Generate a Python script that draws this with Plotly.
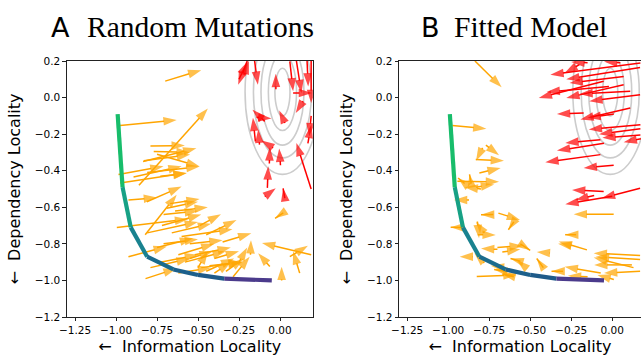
import plotly.graph_objects as go

# ---------------- data ----------------
x_ticks = [-1.25, -1.0, -0.75, -0.5, -0.25, 0.0]
y_ticks = [-1.2, -1.0, -0.8, -0.6, -0.4, -0.2, 0.0, 0.2]

frontier_x = [-0.99, -0.96, -0.91, -0.81, -0.65, -0.50, -0.34, -0.05]
frontier_y = [-0.09, -0.49, -0.71, -0.87, -0.94, -0.97, -0.99, -1.00]
frontier_colors = ["#18bd6b", "#17a185", "#19828f", "#1b6b8d", "#1d608b", "#1e5a89", "#4b3b8c"]

ring_halfwidth = [0.046, 0.086, 0.131, 0.177, 0.228]
ring_halfheight = [0.13, 0.21, 0.29, 0.36, 0.45]
ring_center_A = (0.015, 0.03)
ring_center_B = (-0.012, 0.03)

# arrows: (tail x, tail y, head x, head y)
A_orange = [
    (-0.70, 0.09, -0.48, 0.15), (-0.975, -0.153, -0.63, -0.122), (-0.86, -0.48, -0.44, -0.06),
    (-0.79, -0.265, -0.58, -0.262), (-0.835, -0.35, -0.51, -0.277), (-0.75, -0.31, -0.49, -0.377),
    (-0.81, -0.41, -0.49, -0.377), (-0.77, -0.295, -0.55, -0.30), (-0.73, -0.43, -0.57, -0.414),
    (-0.985, -0.421, -0.71, -0.376), (-0.893, -0.434, -0.60, -0.376), (-0.83, -0.345, -0.548, -0.312),
    (-0.975, -0.467, -0.568, -0.412), (-0.924, -0.56, -0.75, -0.547), (-0.812, -0.57, -0.60, -0.487),
    (-0.822, -0.75, -0.63, -0.532), (-0.69, -0.605, -0.50, -0.57), (-0.71, -0.64, -0.50, -0.62),
    (-0.995, -0.71, -0.56, -0.665), (-0.81, -0.74, -0.50, -0.68), (-0.75, -0.82, -0.53, -0.77),
    (-0.924, -0.87, -0.69, -0.815), (-0.71, -0.80, -0.50, -0.775), (-0.82, -0.99, -0.63, -0.935),
    (-0.79, -0.93, -0.55, -0.88), (-0.73, -0.90, -0.50, -0.86), (-0.67, -0.58, -0.49, -0.555),
    (-0.64, -0.62, -0.44, -0.60), (-0.49, -0.70, -0.36, -0.638), (-0.45, -0.75, -0.265, -0.67),
    (-0.60, -0.76, -0.29, -0.72), (-0.35, -0.79, -0.175, -0.742), (-0.55, -0.80, -0.35, -0.78),
    (-0.18, -0.86, -0.177, -0.78), (-0.286, -0.98, -0.185, -0.87), (-0.43, -0.92, -0.23, -0.90),
    (-0.55, -0.88, -0.41, -0.84), (0.01, -1.0, 0.01, -0.925), (0.02, -0.63, -0.03, -0.66),
    (0.19, -0.86, -0.11, -0.795), (-0.062, -0.924, -0.133, -0.851), (0.12, -0.96, 0.08, -0.84),
    (0.06, -0.87, 0.17, -0.81), (-0.50, -0.93, -0.44, -0.84), (-0.48, -0.93, -0.235, -0.90),
    (-0.62, -0.96, -0.42, -0.93), (-0.40, -0.96, -0.30, -0.90), (-0.25, -0.90, -0.20, -0.82),
    (-0.72, -0.70, -0.48, -0.64), (-0.66, -0.74, -0.42, -0.69), (-0.62, -0.86, -0.40, -0.80),
    (-0.58, -0.90, -0.33, -0.84), (-0.52, -0.86, -0.30, -0.82), (-0.45, -0.95, -0.28, -0.88),
    (-0.40, -0.88, -0.25, -0.84), (-0.33, -0.95, -0.22, -0.88),
]
A_red = [
    (-0.20, 0.20, -0.255, 0.07), (-0.25, 0.10, -0.20, 0.195), (-0.155, 0.20, -0.135, 0.07),
    (-0.215, 0.13, -0.19, 0.20), (-0.025, 0.045, -0.026, 0.13), (0.06, 0.198, 0.08, 0.034),
    (0.10, 0.20, 0.131, 0.025), (0.165, 0.20, 0.172, 0.061), (0.19, 0.20, 0.19, -0.03),
    (0.08, 0.025, 0.195, 0.025), (0.141, -0.02, 0.096, -0.084), (-0.093, -0.13, -0.168, -0.066),
    (-0.143, -0.108, -0.052, -0.115), (0.03, -0.139, -0.005, -0.071), (0.19, -0.10, 0.178, -0.212),
    (-0.15, -0.24, -0.165, -0.11), (-0.125, -0.257, -0.133, -0.175), (-0.042, -0.275, -0.113, -0.235),
    (-0.065, -0.36, -0.062, -0.272), (0.003, -0.37, -0.005, -0.279), (0.19, -0.50, 0.10, -0.248),
    (-0.077, -0.494, -0.072, -0.376), (-0.093, -0.541, -0.026, -0.496), (0.029, -0.55, 0.019, -0.496),
    (0.17, -0.25, 0.19, -0.15),
]
B_orange = [
    (-0.837, 0.20, -0.674, 0.056), (-0.975, -0.153, -0.767, -0.17), (-0.77, -0.26, -0.69, -0.316),
    (-0.79, -0.275, -0.83, -0.345), (-0.832, -0.339, -0.66, -0.345), (-0.81, -0.412, -0.68, -0.385),
    (-0.944, -0.457, -0.69, -0.461), (-0.90, -0.47, -0.94, -0.44), (-0.86, -0.47, -0.87, -0.42),
    (-0.83, -0.49, -0.72, -0.475), (-0.80, -0.50, -0.90, -0.49), (-0.873, -0.56, -0.965, -0.56),
    (-0.725, -0.64, -0.80, -0.641), (-0.914, -0.71, -0.985, -0.709), (-0.694, -0.632, -0.562, -0.669),
    (-0.60, -0.68, -0.633, -0.723), (-0.78, -0.74, -0.83, -0.68), (-0.822, -0.678, -0.812, -0.769),
    (-0.82, -0.75, -0.71, -0.751), (-0.70, -0.83, -0.80, -0.825), (-0.70, -0.82, -0.545, -0.81),
    (-0.67, -0.845, -0.56, -0.83), (-0.56, -0.80, -0.50, -0.835), (-0.85, -0.87, -0.93, -0.87),
    (-0.78, -0.905, -0.84, -0.85), (-0.66, -0.93, -0.74, -0.92), (-0.52, -0.935, -0.58, -0.89),
    (-0.826, -0.978, -0.583, -0.97), (-0.65, -0.95, -0.72, -0.94), (-0.38, -0.85, -0.46, -0.845),
    (-0.42, -0.93, -0.46, -0.88), (-0.30, -0.95, -0.37, -0.95), (-0.25, -0.81, -0.33, -0.80),
    (-0.22, -0.75, -0.287, -0.75), (-0.15, -0.98, -0.27, -0.975), (0.009, -0.638, -0.235, -0.638),
    (-0.154, -0.833, -0.326, -0.787), (0.17, -0.864, -0.113, -0.851), (0.13, -0.93, -0.113, -0.875),
    (0.17, -0.885, -0.10, -0.87), (-0.07, -0.96, -0.29, -0.925), (0.17, -0.95, -0.05, -0.96),
    (0.01, -0.995, -0.09, -0.97), (0.12, -0.915, -0.11, -0.915), (-0.56, -0.895, -0.62, -0.88),
    (-0.60, -0.98, -0.67, -0.965),
]
B_red = [
    (0.172, 0.189, -0.377, 0.125), (0.17, 0.165, -0.28, 0.10), (0.07, 0.115, -0.26, 0.08),
    (-0.20, 0.18, -0.29, 0.135), (-0.052, 0.089, -0.448, -0.002), (-0.02, 0.06, -0.40, 0.03),
    (0.07, 0.07, -0.28, -0.002), (0.11, 0.035, -0.20, 0.02), (0.17, 0.016, -0.14, -0.02),
    (-0.174, -0.084, -0.337, -0.09), (0.11, -0.057, -0.194, -0.12), (0.01, -0.09, -0.15, -0.11),
    (0.172, -0.148, -0.143, -0.175), (0.172, -0.17, -0.08, -0.20), (0.172, -0.205, -0.06, -0.22),
    (0.175, -0.225, 0.07, -0.245), (-0.072, -0.23, -0.286, -0.248), (-0.05, -0.25, -0.337, -0.29),
    (-0.072, -0.312, -0.408, -0.354), (0.009, -0.37, -0.174, -0.385), (-0.052, -0.514, -0.245, -0.505),
    (0.17, -0.496, -0.063, -0.55), (0.0, -0.54, -0.286, -0.583), (-0.11, -0.535, -0.225, -0.56),
    (-0.15, 0.19, -0.25, 0.195), (0.05, 0.19, -0.05, 0.197),
]

ORANGE = "#FFA500"
RED = "#FF0000"

# ---------------- figure ----------------
W, H = 641, 356
fig = go.Figure()


def arrow_trace(arrows, color, xa, ya):
    xs, ys, sizes = [], [], []
    for x0, y0, x1, y1 in arrows:
        xs += [x0, x1, None]
        ys += [y0, y1, None]
        sizes += [0, 14, 0]
    return go.Scatter(
        x=xs, y=ys, xaxis=xa, yaxis=ya, mode="lines+markers",
        line=dict(color=color, width=1.5),
        marker=dict(symbol="arrow", size=sizes, angleref="previous", color=color,
                    line=dict(width=0)),
        hoverinfo="skip", showlegend=False,
    )


def frontier_traces(xa, ya):
    out = []
    for i, c in enumerate(frontier_colors):
        out.append(go.Scatter(
            x=frontier_x[i:i + 2], y=frontier_y[i:i + 2], xaxis=xa, yaxis=ya,
            mode="lines", line=dict(color=c, width=4.2), hoverinfo="skip", showlegend=False,
        ))
    return out


for arrows_o, arrows_r, xa, ya in [(A_orange, A_red, "x", "y"), (B_orange, B_red, "x2", "y2")]:
    fig.add_trace(arrow_trace(arrows_o, ORANGE, xa, ya))
    fig.add_trace(arrow_trace(arrows_r, RED, xa, ya))
    for t in frontier_traces(xa, ya):
        fig.add_trace(t)

# contour rings (below the data)
for (cx, cy), xr, yr in [(ring_center_A, "x", "y"), (ring_center_B, "x2", "y2")]:
    for hw, hh in zip(ring_halfwidth, ring_halfheight):
        fig.add_shape(type="circle", xref=xr, yref=yr, x0=cx - hw, x1=cx + hw,
                      y0=cy - hh, y1=cy + hh, layer="below",
                      line=dict(color="#cccccc", width=1.6))

tickfont = dict(family="DejaVu Sans", size=10.5, color="black")
labfont = dict(family="DejaVu Sans", size=16, color="black")
axis_common = dict(
    ticks="outside", ticklen=3.5, tickwidth=0.8, tickcolor="#222",
    showline=True, linecolor="#222", linewidth=0.8,
    showgrid=False, zeroline=False, tickfont=tickfont, automargin=False,
)

ytop = 1 - 61 / H
ybot = 1 - 317 / H
fig.update_layout(
    template="none",
    width=W, height=H,
    margin=dict(l=0, r=0, t=0, b=0),
    paper_bgcolor="white", plot_bgcolor="white",
    font=dict(family="DejaVu Sans", color="black"),
    xaxis=dict(domain=[66.8 / W, 312.8 / W], range=[-1.3, 0.2], tickvals=x_ticks, tickformat=".2f",
               mirror=True, anchor="y",
               title=dict(text="←  Information Locality", font=labfont, standoff=6), **axis_common),
    yaxis=dict(domain=[ybot, ytop], range=[-1.2, 0.2], tickvals=y_ticks, tickformat=".1f",
               mirror=True, anchor="x",
               title=dict(text="←  Dependency Locality", font=labfont, standoff=10), **axis_common),
    xaxis2=dict(domain=[399 / W, 1.0], range=[-1.3, 0.2 - 4 / 164], tickvals=x_ticks, tickformat=".2f",
                mirror=True, anchor="y2",
                title=dict(text="←  Information Locality", font=labfont, standoff=6), **axis_common),
    yaxis2=dict(domain=[ybot, ytop], range=[-1.2, 0.2], tickvals=y_ticks, tickformat=".1f",
                mirror=False, anchor="x2",
                title=dict(text="←  Dependency Locality", font=labfont, standoff=10), **axis_common),
)

# panel titles
title_y = 1 - 27 / H
for letter, lx, text, tx in [("A", 49, "Random Mutations", 85), ("B", 419, "Fitted Model", 452)]:
    fig.add_annotation(xref="paper", yref="paper", x=lx / W, y=title_y, xanchor="left", yanchor="middle",
                       text=letter, showarrow=False,
                       font=dict(family="DejaVu Sans", size=27, color="black"))
    fig.add_annotation(xref="paper", yref="paper", x=tx / W, y=title_y, xanchor="left", yanchor="middle",
                       text=text, showarrow=False,
                       font=dict(family="Liberation Serif", size=29.5, color="black"))

fig.write_html("out.html", config={"displayModeBar": False},
               post_script="document.body.style.margin='0';")
